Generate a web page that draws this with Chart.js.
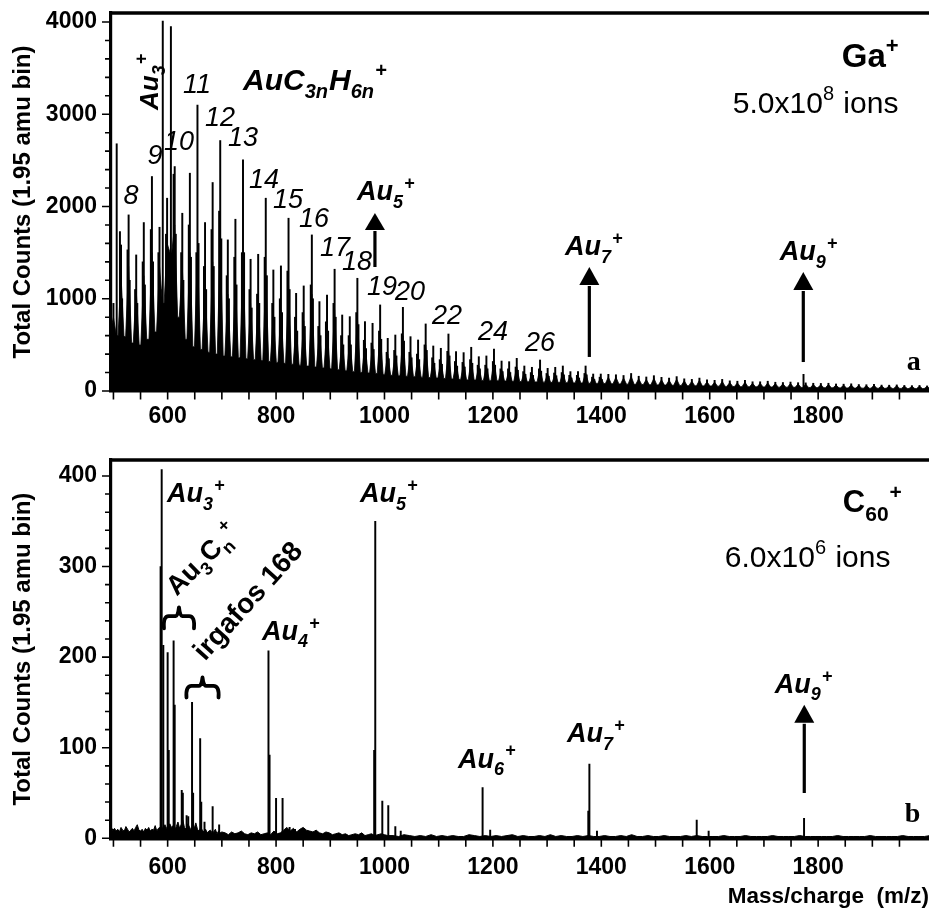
<!DOCTYPE html>
<html>
<head>
<meta charset="utf-8">
<title>Mass spectra: Ga+ and C60+ primary ions on gold</title>
<script src="https://cdn.jsdelivr.net/npm/chart.js@4.4.1/dist/chart.umd.min.js"></script>
<style>
  html, body { margin: 0; padding: 0; background: #fff; overflow: hidden; }
  #wrap { position: relative; width: 929px; height: 909px; overflow: hidden; background: #fff; }
  #wrap canvas { position: absolute; left: 0; }
  #ga { top: 0; }
  #c60 { top: 440px; }
</style>
</head>
<body>
<div id="wrap">
  <canvas id="ga" width="960" height="440"></canvas>
  <canvas id="c60" width="960" height="469"></canvas>
</div>
<script>
// ---------- axis ticks ----------
const xTickLabels = [600, 800, 1000, 1200, 1400, 1600, 1800];
const gaYTickLabels = [0, 1000, 2000, 3000, 4000];
const c60YTickLabels = [0, 100, 200, 300, 400];

// ---------- panel a: Ga+ primary ions ----------
// AuC3nH6n+ family: one cluster every CH2 (m/z), tallest line of each cluster
const gaPeakMz = [
  500, 514, 528, 542, 556, 571, 585, 599, 613, 627,
  641, 655, 669, 683, 697, 711, 725, 739, 753, 767,
  781, 795, 809, 823, 837, 851, 866, 880, 894, 908,
  922, 936, 950, 964, 978, 992, 1006, 1020, 1034, 1048,
  1062, 1076, 1090, 1104, 1118, 1132, 1146, 1160, 1174, 1188,
  1202, 1216, 1230, 1244, 1258, 1272, 1287, 1301, 1315, 1329,
  1343, 1357, 1371, 1385, 1399, 1413, 1427, 1441, 1455, 1469,
  1483, 1497, 1511, 1525, 1539, 1553, 1567, 1581, 1595, 1609,
  1623, 1637, 1651, 1665, 1679, 1693, 1707, 1721, 1735, 1749,
  1763, 1777, 1791, 1805, 1819, 1833, 1847, 1861, 1875, 1889,
  1903, 1917, 1931, 1945, 1959, 1973, 1987, 2001
];
const gaPeakCounts = [
  950, 1583, 1909, 1475, 1826, 2325, 1775, 2090, 2433, 1927,
  2361, 3100, 1826, 2260, 2715, 1638, 1862, 2505, 1428, 1482,
  2090, 1312, 1356, 1873, 1059, 1139, 1692, 969, 1041, 1320,
  824, 806, 1222, 752, 734, 933, 571, 607, 907, 589,
  553, 727, 488, 463, 618, 427, 416, 474, 372, 380,
  455, 325, 318, 354, 271, 257, 336, 246, 257, 271,
  210, 210, 271, 184, 184, 181, 176, 168, 190, 160,
  152, 166, 148, 140, 156, 132, 126, 140, 120, 116,
  126, 110, 106, 116, 100, 100, 106, 95, 92, 97,
  90, 88, 84, 82, 84, 76, 74, 78, 70, 68,
  72, 64, 63, 66, 60, 58, 60, 55
];
// solid body of each cluster (where the unresolved lines merge)
const gaHumpCounts = [
  800, 1250, 1350, 1100, 1250, 1500, 1350, 1600, 1800, 1350,
  1500, 1500, 1150, 1400, 1600, 1050, 1200, 1450, 950, 1000,
  1250, 850, 880, 1150, 720, 760, 1050, 650, 700, 880,
  560, 550, 800, 520, 500, 640, 400, 420, 600, 410,
  390, 500, 350, 330, 440, 310, 300, 340, 270, 275,
  330, 240, 235, 260, 205, 195, 250, 185, 190, 200,
  165, 165, 200, 150, 148, 150, 150, 140, 160, 132,
  125, 138, 122, 116, 128, 110, 106, 116, 100, 96,
  104, 92, 88, 96, 84, 84, 88, 80, 78, 82,
  76, 74, 70, 68, 70, 64, 62, 66, 60, 58,
  62, 55, 54, 57, 52, 50, 52, 48
];
// minimum between a cluster and the next one
const gaValleyCounts = [
  600, 590, 520, 500, 560, 640, 950, 1500, 800, 560,
  480, 450, 420, 400, 380, 370, 360, 350, 340, 330,
  320, 310, 300, 290, 280, 270, 260, 250, 240, 230,
  220, 210, 200, 195, 190, 180, 170, 165, 160, 155,
  150, 145, 140, 135, 130, 125, 120, 118, 115, 112,
  110, 108, 105, 102, 100, 98, 96, 94, 92, 90,
  88, 86, 84, 82, 80, 78, 76, 74, 72, 70,
  68, 66, 64, 62, 60, 58, 56, 55, 54, 52,
  50, 48, 47, 46, 45, 44, 43, 42, 41, 40,
  39, 38, 37, 36, 35, 34, 33, 32, 31, 30,
  30, 29, 28, 28, 27, 26, 26, 25
];
const gaEdgeCount = 650;
// line 2 amu below the main one in each cluster
const gaShoulderCounts = [
  700, 1728, 1530, 1100, 1400, 1750, 1500, 1700, 2350, 1500,
  1800, 1500, 1350, 1750, 1950, 1250, 1450, 1500, 1100, 1050,
  1450, 950, 1000, 1300, 800, 850, 1150, 700, 750, 950,
  600, 600, 850, 550, 520, 650, 420, 440, 620, 420,
  400, 500, 360, 340, 430, 320, 310, 340, 280, 280,
  320, 240, 240, 260, 210, 200, 240, 190, 195, 200,
  170, 170, 190, 150, 150
];
// line 2 amu above the main one in each cluster
const gaTailCounts = [
  650, 1000, 1200, 950, 1150, 1400, 1100, 1300, 1700, 1200,
  1450, 1600, 1100, 1350, 1650, 1000, 1150, 1500, 900, 950,
  1250, 800, 850, 1100, 650, 700, 1000, 600, 650, 800,
  500, 500, 720, 460, 450, 560, 350, 380, 540, 360,
  340, 440, 300, 290, 380, 270, 260, 300, 240, 240,
  280, 210, 200, 225, 180, 170, 215, 160, 165, 175,
  140, 140, 175, 125, 125
];
// isolated lines: m/z 506, Au3+, 606, Au9+
const gaExtraMz = [506, 591, 606, 1773];
const gaExtraCounts = [2680, 4010, 3950, 181];

// ---------- panel b: C60+ primary ions ----------
const c60PeakMz = [
  587, 589, 592, 600, 602, 611, 613, 626, 628, 635,
  638, 645, 647, 660, 662, 668, 683, 695, 786, 788,
  800, 812, 825, 835, 981, 983, 996, 1007, 1020, 1030,
  1181, 1195, 1376, 1378, 1392, 1576, 1598, 1774
];
const c60PeakCounts = [
  300, 407, 213, 205, 97, 218, 147, 53, 50, 25,
  24, 150, 50, 110, 40, 18, 35, 15, 207, 92,
  44, 44, 12, 10, 97, 350, 41, 36, 13, 8,
  56, 9, 30, 82, 8, 20, 8, 22
];
// baseline counts, m/z 496-700 in 3 amu steps
const c60NoiseAStart = 496, c60NoiseAStep = 3;
const c60NoiseA = [
  12, 9, 11, 8, 10, 7, 12, 9, 8, 13, 10, 7, 9, 11, 8, 12, 15, 9, 8, 10,
  7, 11, 9, 12, 8, 10, 9, 14, 8, 11, 12, 9, 13, 15, 11, 10, 16, 12, 14, 9,
  13, 18, 11, 15, 20, 12, 10, 16, 13, 9, 14, 11, 17, 10, 8, 12, 9, 7, 10, 6,
  8, 9, 6, 7, 10, 5, 8, 6, 7
];
// baseline counts, m/z 706-1006 in 6 amu steps
const c60NoiseBStart = 706, c60NoiseBStep = 6;
const c60NoiseB = [
  6, 4, 7, 5, 6, 8, 5, 4, 6, 5, 7, 4, 5, 6, 4, 8, 5, 6, 9, 12,
  8, 11, 7, 10, 12, 9, 8, 7, 9, 6, 5, 7, 6, 4, 5, 6, 4, 5, 3, 4,
  5, 4, 6, 3, 4, 5, 3, 4, 5, 4, 3
];
// baseline counts, m/z 1016-2006 in 10 amu steps
const c60NoiseCStart = 1016, c60NoiseCStep = 10;
const c60NoiseC = [
  3, 2, 4, 3, 2, 3, 2, 4, 2, 3, 2, 3, 2, 2, 4, 3, 2, 3, 2, 3,
  2, 3, 4, 2, 3, 2, 2, 3, 2, 4, 2, 3, 2, 2, 3, 2, 3, 2, 2, 3,
  2, 2, 3, 2, 4, 2, 2, 3, 2, 2, 3, 2, 2, 2, 3, 2, 3, 2, 2, 2,
  2, 3, 2, 2, 2, 3, 2, 2, 2, 2, 3, 2, 2, 2, 2, 3, 2, 2, 2, 2,
  2, 2, 3, 2, 2, 2, 2, 2, 3, 2, 2, 2, 2, 2, 3, 2, 2, 2, 2, 3
];

// ---------- shared styling ----------
const SANS = "'Liberation Sans', Arial, Helvetica, sans-serif";
const SERIF = "'Liberation Serif', 'Times New Roman', serif";
const X_MIN = 495.5, X_MAX = 2004.5;
Chart.defaults.font.family = SANS;
Chart.defaults.color = '#000';

// ---------- build the drawable series ----------
// each cluster is a filled tooth: previous valley -> cluster body -> its own valley
function clusterOutline(mzs, humps, valleys, edge) {
  const pts = [];
  let before = edge;
  mzs.forEach((mz, i) => {
    pts.push({ x: mz - 5.5, y: before });
    pts.push({ x: mz, y: humps[i] });
    pts.push({ x: mz + 5.5, y: valleys[i] });
    before = valleys[i];
  });
  return pts;
}
const gaFill = clusterOutline(gaPeakMz, gaHumpCounts, gaValleyCounts, gaEdgeCount);

const gaLines = [];
gaPeakMz.forEach((mz, i) => gaLines.push({ x: mz, y: gaPeakCounts[i] }));
gaShoulderCounts.forEach((c, i) => gaLines.push({ x: gaPeakMz[i] - 2, y: c }));
gaTailCounts.forEach((c, i) => gaLines.push({ x: gaPeakMz[i] + 2, y: c }));
gaExtraMz.forEach((mz, i) => gaLines.push({ x: mz, y: gaExtraCounts[i] }));
gaLines.sort((a, b) => a.x - b.x);

const c60Base = [];
c60NoiseA.forEach((c, i) => c60Base.push({ x: c60NoiseAStart + i * c60NoiseAStep, y: c }));
c60NoiseB.forEach((c, i) => c60Base.push({ x: c60NoiseBStart + i * c60NoiseBStep, y: c }));
c60NoiseC.forEach((c, i) => c60Base.push({ x: c60NoiseCStart + i * c60NoiseCStep, y: c }));
const c60Lines = c60PeakMz.map((mz, i) => ({ x: mz, y: c60PeakCounts[i] }));

// ---------- drawing helpers ----------
function rich(ctx, x, y, parts, size, face) {
  let cx = x;
  for (const [txt, role] of parts) {
    const s = role ? Math.round(size * 0.68) : size;
    const dy = role === 'sub' ? size * 0.28 : role === 'sup' ? -size * 0.42 : 0;
    ctx.font = `${face} ${s}px ${SANS}`;
    ctx.fillText(txt, cx, y + dy);
    cx += ctx.measureText(txt).width + (role ? 1 : 0);
  }
}
const au = n => [['Au', ''], [String(n), 'sub'], ['+', 'sup']];

function arrow(ctx, xs, ys, a) {
  const x = xs.getPixelForValue(a.mz);
  const yt = ys.getPixelForValue(a.tip), yh = ys.getPixelForValue(a.head), yb = ys.getPixelForValue(a.tail);
  ctx.lineWidth = 3.2;
  ctx.beginPath(); ctx.moveTo(x, yb); ctx.lineTo(x, yh + 1); ctx.stroke();
  ctx.beginPath(); ctx.moveTo(x, yt); ctx.lineTo(x - 10, yh); ctx.lineTo(x + 10, yh); ctx.closePath(); ctx.fill();
}

function brace(ctx, cx, cy, w, h) {
  const x0 = cx - w / 2, x1 = cx + w / 2, y0 = cy - h / 2, yb = cy - h / 2 + h * 0.42;
  ctx.lineWidth = 3.8; ctx.lineCap = 'round'; ctx.lineJoin = 'round';
  ctx.beginPath();
  ctx.moveTo(x0 + 1, y0 + h);
  ctx.quadraticCurveTo(x0, yb, x0 + w * 0.18, yb);
  ctx.lineTo(cx - w * 0.1, yb);
  ctx.quadraticCurveTo(cx - 1, yb, cx, y0);
  ctx.quadraticCurveTo(cx + 1, yb, cx + w * 0.1, yb);
  ctx.lineTo(x1 - w * 0.18, yb);
  ctx.quadraticCurveTo(x1, yb, x1 - 1, y0 + h);
  ctx.stroke();
}

function frameAndTicks(chart, yLabels) {
  const { ctx, chartArea: a, scales: { x, y } } = chart;
  ctx.save();
  ctx.strokeStyle = '#000';
  ctx.lineWidth = 1.6;
  ctx.beginPath();
  for (const t of y.ticks) {
    const py = y.getPixelForValue(t.value);
    const len = yLabels.includes(t.value) ? 7.5 : 4.5;
    ctx.moveTo(a.left - 1.5 - len, py); ctx.lineTo(a.left, py);
  }
  for (const t of x.ticks) {
    const px = x.getPixelForValue(t.value);
    ctx.moveTo(px, a.bottom); ctx.lineTo(px, a.bottom + 1.5 + 7);
  }
  ctx.stroke();
  ctx.lineWidth = 3.4;
  ctx.beginPath(); ctx.moveTo(a.left - 1.7, a.top); ctx.lineTo(a.right + 3, a.top); ctx.stroke();
  ctx.restore();
}

// ---------- annotation layout (data coordinates: m/z, counts) ----------
const gaNumberMarks = [
  ['8', 532.4, 2114], ['9', 576.7, 2547], ['10', 620.9, 2699], ['11', 654.1, 3317],
  ['12', 696.5, 2959], ['13', 739.0, 2732], ['14', 777.7, 2287], ['15', 821.9, 2070],
  ['16', 869.9, 1854], ['17', 908.6, 1550], ['18', 949.2, 1398], ['19', 995.3, 1127],
  ['20', 1046.9, 1073], ['22', 1115.2, 813], ['24', 1200.0, 629], ['26', 1286.7, 520]
];

const gaMarks = {
  id: 'gaMarks',
  afterDatasetsDraw(chart) {
    const { ctx, scales: { x, y } } = chart;
    frameAndTicks(chart, gaYTickLabels);
    ctx.save();
    ctx.fillStyle = '#000'; ctx.strokeStyle = '#000';
    ctx.textAlign = 'center'; ctx.textBaseline = 'middle';
    ctx.font = `italic 27px ${SANS}`;
    for (const [t, mz, c] of gaNumberMarks) ctx.fillText(t, x.getPixelForValue(mz), y.getPixelForValue(c));
    ctx.textAlign = 'left'; ctx.textBaseline = 'alphabetic';
    // Au3+ written along its line
    ctx.save();
    ctx.translate(x.getPixelForValue(582.2), y.getPixelForValue(3046));
    ctx.rotate(-Math.PI / 2);
    rich(ctx, 0, 0, au(3), 26, 'italic bold');
    ctx.restore();
    rich(ctx, x.getPixelForValue(739.0), y.getPixelForValue(3263),
      [['AuC', ''], ['3n', 'sub'], ['H', ''], ['6n', 'sub'], ['+', 'sup']], 30, 'italic bold');
    rich(ctx, x.getPixelForValue(949.2), y.getPixelForValue(2070), au(5), 27, 'italic bold');
    rich(ctx, x.getPixelForValue(1332.8), y.getPixelForValue(1474), au(7), 27, 'italic bold');
    rich(ctx, x.getPixelForValue(1729.3), y.getPixelForValue(1420), au(9), 27, 'italic bold');
    arrow(ctx, x, y, { mz: 982.4, tip: 1930, head: 1745, tail: 1344 });
    arrow(ctx, x, y, { mz: 1377.9, tip: 1344, head: 1149, tail: 369 });
    arrow(ctx, x, y, { mz: 1772.6, tip: 1290, head: 1095, tail: 314 });
    rich(ctx, x.getPixelForValue(1843.7), y.getPixelForValue(3512), [['Ga', ''], ['+', 'sup']], 33, 'bold');
    rich(ctx, x.getPixelForValue(1642.6), y.getPixelForValue(3014), [['5.0x10', ''], ['8', 'sup'], [' ions', '']], 30, 'normal');
    ctx.font = `bold 28px ${SERIF}`;
    ctx.fillText('a', x.getPixelForValue(1963.6), y.getPixelForValue(228));
    ctx.restore();
  }
};

const c60Marks = {
  id: 'c60Marks',
  afterDatasetsDraw(chart) {
    const { ctx, scales: { x, y } } = chart;
    frameAndTicks(chart, c60YTickLabels);
    ctx.save();
    ctx.fillStyle = '#000'; ctx.strokeStyle = '#000';
    ctx.textAlign = 'left'; ctx.textBaseline = 'alphabetic';
    rich(ctx, x.getPixelForValue(598.8), y.getPixelForValue(370.7), au(3), 27, 'italic bold');
    rich(ctx, x.getPixelForValue(774.0), y.getPixelForValue(219.0), au(4), 27, 'italic bold');
    rich(ctx, x.getPixelForValue(954.7), y.getPixelForValue(370.7), au(5), 27, 'italic bold');
    rich(ctx, x.getPixelForValue(1135.5), y.getPixelForValue(77.8), au(6), 27, 'italic bold');
    rich(ctx, x.getPixelForValue(1336.5), y.getPixelForValue(106.3), au(7), 27, 'italic bold');
    rich(ctx, x.getPixelForValue(1720.1), y.getPixelForValue(160.5), au(9), 27, 'italic bold');
    arrow(ctx, x, y, { mz: 1774.4, tip: 147.4, head: 127.5, tail: 50 });
    rich(ctx, x.getPixelForValue(1845.5), y.getPixelForValue(360.3), [['C', ''], ['60', 'sub'], ['+', 'sup']], 31, 'bold');
    rich(ctx, x.getPixelForValue(1627.9), y.getPixelForValue(299.5), [['6.0x10', ''], ['6', 'sup'], [' ions', '']], 30, 'normal');
    // cluster ion and additive families, slanted
    ctx.save();
    ctx.translate(x.getPixelForValue(616.7), y.getPixelForValue(266.7));
    ctx.rotate(-45 * Math.PI / 180);
    rich(ctx, 0, 0, [['Au', ''], ['3', 'sub'], ['C', ''], ['n', 'sub'], ['+', 'sup']], 27, 'bold');
    ctx.restore();
    ctx.save();
    ctx.translate(x.getPixelForValue(668.9), y.getPixelForValue(194.8));
    ctx.rotate(-48 * Math.PI / 180);
    rich(ctx, 0, 0, [['irgafos 168', '']], 28, 'bold');
    ctx.restore();
    brace(ctx, x.getPixelForValue(620.9), y.getPixelForValue(243.4), 32, 21);
    brace(ctx, x.getPixelForValue(664.3), y.getPixelForValue(166.5), 34, 20);
    ctx.font = `bold 28px ${SERIF}`;
    ctx.fillText('b', x.getPixelForValue(1959.9), y.getPixelForValue(18));
    ctx.restore();
  }
};

// ---------- chart factory ----------
function axisTicks(min, max, step) {
  const out = [];
  for (let v = min; v <= max + 1e-9; v += step) out.push({ value: v });
  return out;
}

function spectrumOptions(cfg) {
  return {
    responsive: false,
    animation: false,
    devicePixelRatio: 1,
    layout: { padding: { top: cfg.padTop, right: 31, bottom: 0, left: 0 } },
    plugins: { legend: { display: false }, tooltip: { enabled: false }, title: { display: false } },
    scales: {
      x: {
        type: 'linear', min: X_MIN, max: X_MAX, offset: false,
        afterBuildTicks: s => { s.ticks = axisTicks(500, 1950, 50); },
        afterFit: s => { s.height = cfg.xHeight; s.paddingLeft = 0; s.paddingRight = 0; },
        grid: { display: true, drawOnChartArea: false, drawTicks: false, offset: false },
        border: { display: true, color: '#000', width: 3.4 },
        ticks: {
          autoSkip: false, maxRotation: 0, minRotation: 0, padding: cfg.xPad, color: '#000',
          font: { size: 23, weight: 'bold', family: SANS },
          callback: v => (xTickLabels.includes(v) ? String(v) : '')
        },
        title: cfg.xTitle
          ? { display: true, text: cfg.xTitle, align: 'end', color: '#000',
              font: { size: 22.5, weight: 'bold', family: SANS }, padding: { top: 0, bottom: -1 } }
          : { display: false }
      },
      y: {
        type: 'linear', min: 0, max: cfg.yMax,
        afterBuildTicks: s => { s.ticks = axisTicks(0, cfg.yTop, cfg.yStep); },
        afterFit: s => { s.width = 111; s.paddingTop = 0; s.paddingBottom = 0; },
        grid: { display: true, drawOnChartArea: false, drawTicks: false },
        border: { display: true, color: '#000', width: 3.2 },
        ticks: {
          autoSkip: false, padding: 14, color: '#000',
          font: { size: 23, weight: 'bold', family: SANS },
          callback: v => (cfg.yLabels.includes(v) ? String(v) : '')
        },
        title: {
          display: true, text: 'Total Counts (1.95 amu bin)', color: '#000',
          font: { size: 24, weight: 'bold', family: SANS }, padding: { top: 8.6, bottom: 0 }
        }
      }
    }
  };
}

new Chart(document.getElementById('ga'), {
  type: 'bar',
  data: {
    datasets: [
      { type: 'line', data: gaFill, borderColor: '#000', backgroundColor: '#000', borderWidth: 0.8,
        pointRadius: 0, fill: 'origin', tension: 0 },
      { type: 'bar', data: gaLines, backgroundColor: '#000', borderWidth: 0, barThickness: 1.3, grouped: false }
    ]
  },
  options: spectrumOptions({ padTop: 13, xHeight: 49, xPad: 12, yMax: 4097.6, yTop: 4000, yStep: 200, yLabels: gaYTickLabels }),
  plugins: [gaMarks]
});

new Chart(document.getElementById('c60'), {
  type: 'bar',
  data: {
    datasets: [
      { type: 'line', data: c60Base, borderColor: '#000', backgroundColor: '#000', borderWidth: 1,
        pointRadius: 0, fill: 'origin', tension: 0 },
      { type: 'bar', data: c60Lines, backgroundColor: '#000', borderWidth: 0, barThickness: 1.3, grouped: false }
    ]
  },
  options: spectrumOptions({ padTop: 20, xHeight: 70.7, xPad: 16, yMax: 417.6, yTop: 400, yStep: 20, yLabels: c60YTickLabels,
    xTitle: 'Mass/charge  (m/z)' }),
  plugins: [c60Marks]
});
</script>
</body>
</html>
